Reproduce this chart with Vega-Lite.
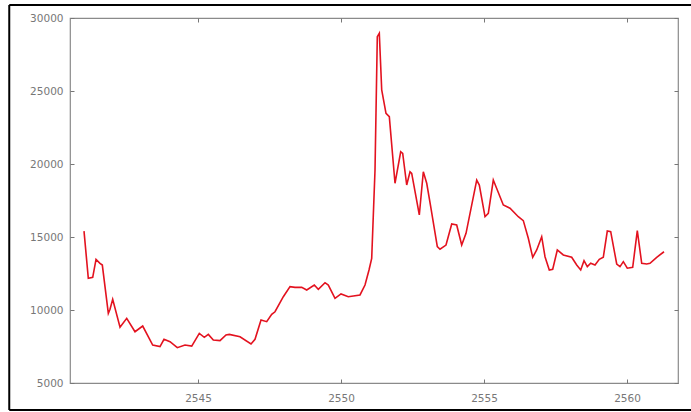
{
  "$schema": "https://vega.github.io/schema/vega-lite/v6.json",
  "width": 608,
  "height": 365,
  "autosize": {"type": "none"},
  "padding": {"left": 70, "top": 18, "right": 13, "bottom": 29},
  "background": "white",
  "config": {
    "view": {"stroke": "#8a8a8a", "strokeWidth": 1.2},
    "axis": {
      "labelFont": "DejaVu Sans",
      "labelFontSize": 10.5,
      "labelColor": "#777777",
      "tickColor": "#777777",
      "tickSize": -4,
      "domain": false,
      "grid": false,
      "title": null
    }
  },
  "datasets": {
    "series": [
      {"year": 2541.014, "value": 15400},
      {"year": 2541.164, "value": 12170},
      {"year": 2541.318, "value": 12240},
      {"year": 2541.434, "value": 13470},
      {"year": 2541.573, "value": 13200},
      {"year": 2541.654, "value": 13080},
      {"year": 2541.864, "value": 9770},
      {"year": 2541.923, "value": 10050},
      {"year": 2542.017, "value": 10730},
      {"year": 2542.273, "value": 8815},
      {"year": 2542.507, "value": 9430},
      {"year": 2542.797, "value": 8510},
      {"year": 2543.066, "value": 8900},
      {"year": 2543.416, "value": 7600},
      {"year": 2543.671, "value": 7490},
      {"year": 2543.811, "value": 7990},
      {"year": 2544.021, "value": 7830},
      {"year": 2544.276, "value": 7420},
      {"year": 2544.545, "value": 7600},
      {"year": 2544.780, "value": 7530},
      {"year": 2545.045, "value": 8400},
      {"year": 2545.220, "value": 8130},
      {"year": 2545.360, "value": 8330},
      {"year": 2545.535, "value": 7940},
      {"year": 2545.769, "value": 7900},
      {"year": 2545.979, "value": 8290},
      {"year": 2546.094, "value": 8330},
      {"year": 2546.469, "value": 8170},
      {"year": 2546.853, "value": 7670},
      {"year": 2546.993, "value": 7990},
      {"year": 2547.203, "value": 9310},
      {"year": 2547.402, "value": 9200},
      {"year": 2547.577, "value": 9700},
      {"year": 2547.692, "value": 9880},
      {"year": 2547.983, "value": 10910},
      {"year": 2548.217, "value": 11600},
      {"year": 2548.392, "value": 11550},
      {"year": 2548.626, "value": 11550},
      {"year": 2548.801, "value": 11370},
      {"year": 2549.066, "value": 11710},
      {"year": 2549.206, "value": 11420},
      {"year": 2549.441, "value": 11870},
      {"year": 2549.556, "value": 11710},
      {"year": 2549.790, "value": 10800},
      {"year": 2550.000, "value": 11100},
      {"year": 2550.255, "value": 10910},
      {"year": 2550.664, "value": 11030},
      {"year": 2550.839, "value": 11710},
      {"year": 2550.979, "value": 12740},
      {"year": 2551.073, "value": 13540},
      {"year": 2551.189, "value": 19590},
      {"year": 2551.269, "value": 28720},
      {"year": 2551.339, "value": 28950},
      {"year": 2551.423, "value": 25070},
      {"year": 2551.573, "value": 23470},
      {"year": 2551.689, "value": 23240},
      {"year": 2551.888, "value": 18680},
      {"year": 2552.087, "value": 20840},
      {"year": 2552.157, "value": 20730},
      {"year": 2552.297, "value": 18560},
      {"year": 2552.413, "value": 19470},
      {"year": 2552.472, "value": 19360},
      {"year": 2552.738, "value": 16510},
      {"year": 2552.878, "value": 19470},
      {"year": 2552.997, "value": 18680},
      {"year": 2553.136, "value": 17080},
      {"year": 2553.367, "value": 14340},
      {"year": 2553.462, "value": 14160},
      {"year": 2553.671, "value": 14450},
      {"year": 2553.871, "value": 15890},
      {"year": 2554.045, "value": 15820},
      {"year": 2554.220, "value": 14450},
      {"year": 2554.371, "value": 15250},
      {"year": 2554.745, "value": 18900},
      {"year": 2554.836, "value": 18560},
      {"year": 2555.035, "value": 16390},
      {"year": 2555.150, "value": 16620},
      {"year": 2555.325, "value": 18900},
      {"year": 2555.465, "value": 18220},
      {"year": 2555.675, "value": 17190},
      {"year": 2555.909, "value": 16970},
      {"year": 2556.199, "value": 16390},
      {"year": 2556.374, "value": 16120},
      {"year": 2556.549, "value": 14910},
      {"year": 2556.703, "value": 13610},
      {"year": 2556.843, "value": 14110},
      {"year": 2557.017, "value": 15020},
      {"year": 2557.133, "value": 13650},
      {"year": 2557.283, "value": 12740},
      {"year": 2557.402, "value": 12790},
      {"year": 2557.563, "value": 14110},
      {"year": 2557.773, "value": 13770},
      {"year": 2558.066, "value": 13610},
      {"year": 2558.241, "value": 13080},
      {"year": 2558.381, "value": 12740},
      {"year": 2558.497, "value": 13380},
      {"year": 2558.612, "value": 12970},
      {"year": 2558.731, "value": 13200},
      {"year": 2558.881, "value": 13080},
      {"year": 2559.031, "value": 13470},
      {"year": 2559.171, "value": 13610},
      {"year": 2559.311, "value": 15410},
      {"year": 2559.430, "value": 15370},
      {"year": 2559.640, "value": 13150},
      {"year": 2559.755, "value": 12970},
      {"year": 2559.871, "value": 13310},
      {"year": 2560.010, "value": 12860},
      {"year": 2560.199, "value": 12920},
      {"year": 2560.360, "value": 15430},
      {"year": 2560.514, "value": 13200},
      {"year": 2560.689, "value": 13150},
      {"year": 2560.804, "value": 13200},
      {"year": 2561.038, "value": 13610},
      {"year": 2561.294, "value": 13990}
    ],
    "frame": [
      {"x1": 2538.4, "x2": 2600, "y1": 30890, "y2": 30890},
      {"x1": 2538.4, "x2": 2600, "y1": 3150, "y2": 3150},
      {"x1": 2538.4, "x2": 2538.4, "y1": 3150, "y2": 30890}
    ]
  },
  "layer": [
    {
      "data": {"name": "frame"},
      "mark": {"type": "rule", "color": "black", "strokeWidth": 2, "clip": false},
      "encoding": {
        "x": {"field": "x1", "type": "quantitative", "scale": {"domain": [2540.524, 2561.783], "nice": false, "zero": false}, "axis": null},
        "x2": {"field": "x2"},
        "y": {"field": "y1", "type": "quantitative", "scale": {"domain": [5000, 30000], "nice": false, "zero": false}, "axis": null},
        "y2": {"field": "y2"}
      }
    },
    {
      "data": {"name": "series"},
      "mark": {"type": "line", "color": "#e3121f", "strokeWidth": 1.6, "clip": true},
      "encoding": {
        "x": {
          "field": "year", "type": "quantitative",
          "scale": {"domain": [2540.524, 2561.783], "nice": false, "zero": false},
          "axis": {"orient": "bottom", "values": [2545, 2550, 2555, 2560], "format": "d", "labelPadding": 14.5}
        },
        "y": {
          "field": "value", "type": "quantitative",
          "scale": {"domain": [5000, 30000], "nice": false, "zero": false},
          "axis": {"orient": "left", "values": [5000, 10000, 15000, 20000, 25000, 30000], "format": "d", "labelPadding": 11}
        }
      }
    },
    {
      "data": {"name": "series"},
      "mark": {"type": "line", "opacity": 0},
      "encoding": {
        "x": {
          "field": "year", "type": "quantitative",
          "scale": {"domain": [2540.524, 2561.783], "nice": false, "zero": false},
          "axis": {"orient": "top", "values": [2545, 2550, 2555, 2560], "labels": false}
        },
        "y": {
          "field": "value", "type": "quantitative",
          "scale": {"domain": [5000, 30000], "nice": false, "zero": false},
          "axis": {"orient": "right", "values": [5000, 10000, 15000, 20000, 25000, 30000], "labels": false}
        }
      }
    }
  ],
  "resolve": {"scale": {"x": "shared", "y": "shared"}}
}
